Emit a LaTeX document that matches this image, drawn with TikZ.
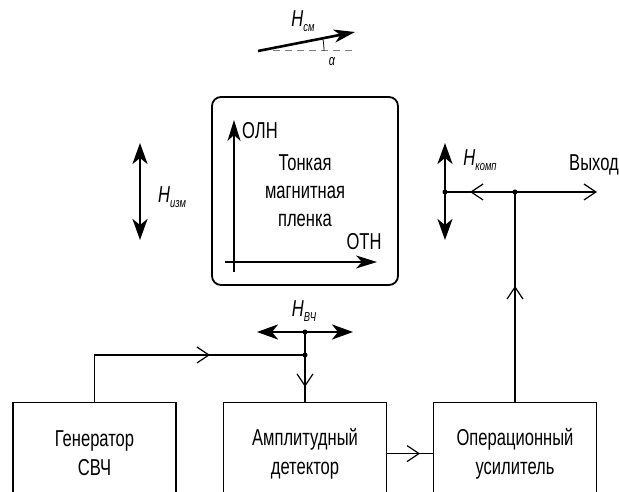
\documentclass[tikz,border=0pt]{standalone}
\usepackage{fontspec}
\setmainfont{Liberation Sans}[FakeStretch=0.72]
\usetikzlibrary{arrows.meta,decorations.markings}

\newcommand\hsub[1]{\textit{H}\raisebox{-0.45ex}{\fontsize{13}{13}\selectfont\itshape #1}}

\tikzset{
  every node/.style={font=\fontsize{23}{29}\selectfont},
  blk/.style={draw, line width=1.2pt, minimum width=163pt, minimum height=102pt,
    anchor=north, align=center},
  film/.style={draw, line width=1.8pt, rounded corners=9pt, minimum width=186pt,
    minimum height=188pt, align=center, font=\fontsize{23}{28}\selectfont},
  wire/.style={line width=1.2pt},
  barb/.style={postaction={decorate}, decoration={markings,
    mark=at position #1 with {\arrow{Straight Barb[length=12pt,width=16pt]}}}},
  fld/.style={line width=2.6pt,
    {Stealth[length=21pt,width=15pt,inset=6pt]}-{Stealth[length=21pt,width=15pt,inset=6pt]}},
  axis/.style={line width=1.2pt, -{Stealth[length=21pt,width=13pt,inset=6pt]}},
  jdot/.style={circle, fill, inner sep=0pt, minimum size=5pt},
}

\begin{document}
\begin{tikzpicture}[x=1pt, y=1pt]
  \useasboundingbox (0,0) rectangle (619,492);
  \clip (0,0) rectangle (619,492);

  % bias field
  \draw[gray, dashed, dash pattern=on 7pt off 5pt, line width=1pt] (273,441) -- (353,441);
  \draw[line width=2.6pt, -{Stealth[length=21pt,width=13pt,inset=6pt]}] (258,441) -- (355,460);
  \draw[line width=0.8pt] (324,441) arc[start angle=0, end angle=11.3, radius=66];
  \node (hsm) at (303,471) {\hsub{см}};
  \node (alpha) at (332,430) {\fontsize{15}{15}\selectfont\itshape α};

  % film
  \node[film] (film) at (305,301) {Тонкая\\магнитная\\пленка};
  \coordinate (o) at (234,230);
  \draw[axis] ([yshift=-10pt]o) -- ++(0,152);
  \draw[axis] ([xshift=-9pt]o) -- ++(152,0);
  \node (oln) at (260,361) {ОЛН};
  \node (otn) at (364,250) {ОТН};

  % measured field
  \draw[fld] (140,252) -- (140,349);
  \node (hizm) at (172,295) {\hsub{изм}};

  % blocks
  \node[blk] (gen) at (94.5,90) {Генератор\\СВЧ};
  \node[blk] (det) at (305,90) {Амплитудный\\детектор};
  \node[blk] (amp) at (515,90) {Операционный\\усилитель};

  \node[jdot] (hv) at (305,160) {};
  \node[jdot] (jd) at (305,137) {};
  \node[jdot] (ab) at (515,300) {};
  \node[jdot] (hk) at (445,300) {};
  \coordinate (out) at (597,300);

  \draw[fld] ([xshift=-48pt]hv.center) -- ([xshift=48pt]hv.center);
  \node (hvch) at (304,181) {\hsub{ВЧ}};
  \draw[fld] ([yshift=-48pt]hk.center) -- ([yshift=49pt]hk.center);
  \node (hkomp) at (480,332) {\hsub{комп}};

  \draw[wire, barb=162.5pt] (gen.north) |- (jd.center);
  \draw[wire, barb=32pt] (jd.center) -- (det.north);
  \draw[wire] (hv.center) -- (jd.center);
  \draw[wire, barb=33pt] (det.east) -- (amp.west);
  \draw[wire, barb=116pt] (amp.north) -- (ab.center);
  \draw[wire, barb=45pt] (ab.center) -- (hk.center);
  \draw[wire, -{Straight Barb[length=12pt,width=16pt]}] (ab.center) -- (out);
  \node (vyh) at (594,327) {Выход};
\end{tikzpicture}
\end{document}
